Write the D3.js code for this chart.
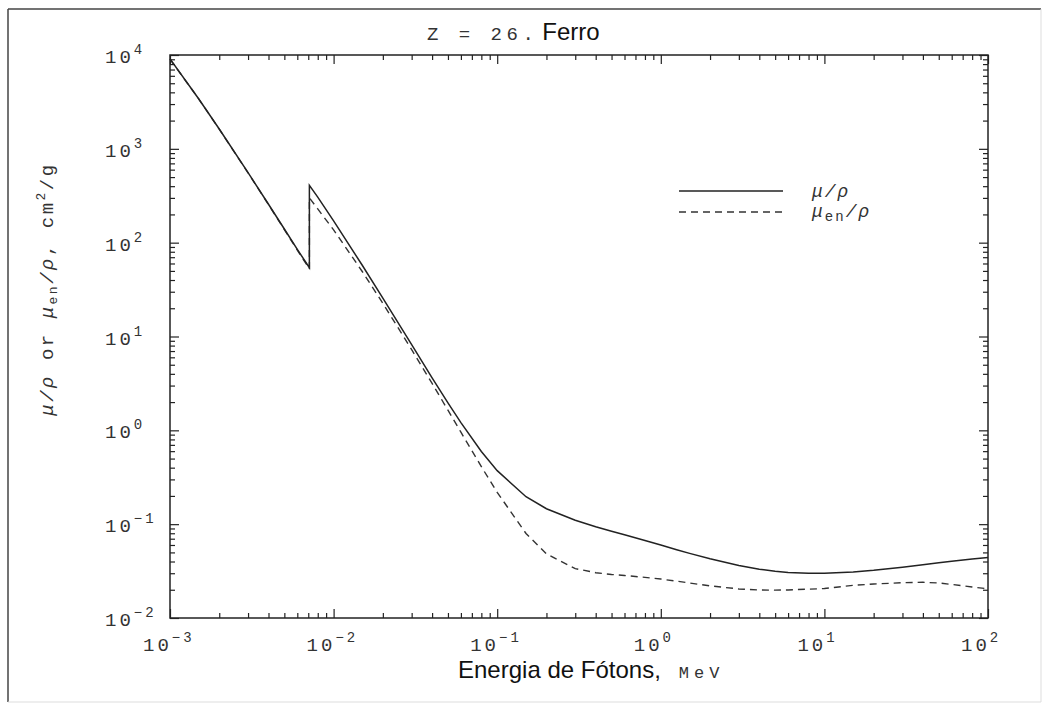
<!DOCTYPE html>
<html>
<head>
<meta charset="utf-8">
<script src="https://cdn.jsdelivr.net/npm/d3@7"></script>
<style>
  body { margin: 0; background: #fff; }
  svg { display: block; }
  .hershey { font-family: "Liberation Mono", monospace; fill: #333; }
  .arial { font-family: "Liberation Sans", Arial, sans-serif; fill: #111; }
</style>
</head>
<body>
<div id="chart"></div>
<script>
// photon energy, MeV (K edge of iron appears twice)
const energy = [0.001, 0.0015, 0.002, 0.003, 0.004, 0.005, 0.006, 0.007112, 0.007112, 0.008,
  0.01, 0.015, 0.02, 0.03, 0.04, 0.05, 0.06, 0.08, 0.1, 0.15, 0.2, 0.3, 0.4, 0.5, 0.6, 0.8,
  1, 1.25, 1.5, 2, 3, 4, 5, 6, 8, 10, 15, 20, 30, 40, 50, 60, 80, 100];

// mu/rho, cm2/g
const muRho = [9085, 3399, 1626, 557.6, 256.7, 139.8, 84.8, 54.1, 409, 305.6,
  170.6, 57.1, 25.7, 8.18, 3.63, 1.96, 1.21, 0.595, 0.372, 0.196, 0.146, 0.110, 0.094, 0.084, 0.077, 0.067,
  0.060, 0.0535, 0.0488, 0.0427, 0.0362, 0.0331, 0.0315, 0.0306, 0.0299, 0.0299, 0.0309, 0.0322, 0.0348, 0.0370, 0.0388, 0.0403, 0.0425, 0.0442];

// mu_en/rho, cm2/g
const muEnRho = [9052, 3388, 1620, 554.7, 254.5, 138.0, 83.3, 52.5, 300, 229,
  137, 49.0, 22.6, 7.25, 3.16, 1.64, 0.956, 0.410, 0.218, 0.0796, 0.0483, 0.0336, 0.0304, 0.0291, 0.0284, 0.0271,
  0.0260, 0.0247, 0.0236, 0.0220, 0.0204, 0.0199, 0.0198, 0.0199, 0.0203, 0.0206, 0.0223, 0.0230, 0.0238, 0.0240, 0.0236, 0.0228, 0.0214, 0.0205];

const xDecades = [-3, -2, -1, 0, 1, 2];
const yDecades = [-2, -1, 0, 1, 2, 3, 4];

const W = 1043, H = 704;
const pLeft = 170, pRight = 988, pTop = 55, pBottom = 618;

const svg = d3.select("#chart").append("svg")
  .attr("width", W)
  .attr("height", H);

// outer frame
svg.append("line").attr("x1", 8).attr("x2", 8).attr("y1", 9).attr("y2", 702)
  .attr("stroke", "#444").attr("stroke-width", 1.5);
svg.append("line").attr("x1", 8).attr("x2", 1041).attr("y1", 9).attr("y2", 9)
  .attr("stroke", "#444").attr("stroke-width", 1.5);
svg.append("line").attr("x1", 8).attr("x2", 1041).attr("y1", 702).attr("y2", 702)
  .attr("stroke", "#ddd").attr("stroke-width", 1);
svg.append("line").attr("x1", 1041).attr("x2", 1041).attr("y1", 9).attr("y2", 702)
  .attr("stroke", "#ddd").attr("stroke-width", 1);

const x = d3.scaleLog().domain([1e-3, 1e2]).range([pLeft, pRight]);
const y = d3.scaleLog().domain([1e-2, 1e4]).range([pBottom, pTop]);

const xMajor = xDecades.map(d => Math.pow(10, d));
const yMajor = yDecades.map(d => Math.pow(10, d));
const minorOf = decs => {
  const out = [];
  decs.slice(0, -1).forEach(d => {
    for (let k = 2; k <= 9; k++) out.push(k * Math.pow(10, d));
  });
  return out;
};
const xMinor = minorOf(xDecades);
const yMinor = minorOf(yDecades);

function styleAxis(g) {
  g.select(".domain").remove();
  g.selectAll("line").attr("stroke", "#222").attr("stroke-width", 1.2);
}

const majLen = 9, minLen = 5;

// bottom / top
svg.append("g").attr("transform", `translate(0,${pBottom})`)
  .call(d3.axisBottom(x).tickValues(xMajor).tickSize(-majLen).tickFormat("")).call(styleAxis);
svg.append("g").attr("transform", `translate(0,${pBottom})`)
  .call(d3.axisBottom(x).tickValues(xMinor).tickSize(-minLen).tickFormat("")).call(styleAxis);
svg.append("g").attr("transform", `translate(0,${pTop})`)
  .call(d3.axisTop(x).tickValues(xMajor).tickSize(-majLen).tickFormat("")).call(styleAxis);
svg.append("g").attr("transform", `translate(0,${pTop})`)
  .call(d3.axisTop(x).tickValues(xMinor).tickSize(-minLen).tickFormat("")).call(styleAxis);
// left / right
svg.append("g").attr("transform", `translate(${pLeft},0)`)
  .call(d3.axisLeft(y).tickValues(yMajor).tickSize(-majLen).tickFormat("")).call(styleAxis);
svg.append("g").attr("transform", `translate(${pLeft},0)`)
  .call(d3.axisLeft(y).tickValues(yMinor).tickSize(-minLen).tickFormat("")).call(styleAxis);
svg.append("g").attr("transform", `translate(${pRight},0)`)
  .call(d3.axisRight(y).tickValues(yMajor).tickSize(-majLen).tickFormat("")).call(styleAxis);
svg.append("g").attr("transform", `translate(${pRight},0)`)
  .call(d3.axisRight(y).tickValues(yMinor).tickSize(-minLen).tickFormat("")).call(styleAxis);

// plot frame
svg.append("rect")
  .attr("x", pLeft).attr("y", pTop)
  .attr("width", pRight - pLeft).attr("height", pBottom - pTop)
  .attr("fill", "none").attr("stroke", "#222").attr("stroke-width", 1.5);

// tick labels 10^n
function powLabel(sel) {
  sel.append("tspan").text("10");
  sel.append("tspan")
    .attr("dy", -9)
    .style("font-size", "14px")
    .text(d => (d < 0 ? "\u2212" + (-d) : d));
}

svg.selectAll(".xlab").data(xDecades).enter().append("text")
  .attr("class", "hershey xlab")
  .attr("x", d => x(Math.pow(10, d)) - 27)
  .attr("y", pBottom + 33)
  .style("font-size", "19px")
  .style("letter-spacing", "3px")
  .call(powLabel);

svg.selectAll(".ylab").data(yDecades).enter().append("text")
  .attr("class", "hershey ylab")
  .attr("x", pLeft - 65)
  .attr("y", d => y(Math.pow(10, d)) + 8)
  .style("font-size", "19px")
  .style("letter-spacing", "3px")
  .call(powLabel);

// curves
const line = d3.line()
  .x(d => x(d[0]))
  .y(d => y(d[1]));

svg.append("path")
  .datum(energy.map((e, i) => [e, muEnRho[i]]))
  .attr("d", line)
  .attr("fill", "none")
  .attr("stroke", "#333")
  .attr("stroke-width", 1.4)
  .attr("stroke-dasharray", "7,5");

svg.append("path")
  .datum(energy.map((e, i) => [e, muRho[i]]))
  .attr("d", line)
  .attr("fill", "none")
  .attr("stroke", "#222")
  .attr("stroke-width", 1.5);

// legend
svg.append("line").attr("x1", 679).attr("x2", 783).attr("y1", 191).attr("y2", 191)
  .attr("stroke", "#222").attr("stroke-width", 1.5);
svg.append("line").attr("x1", 679).attr("x2", 783).attr("y1", 212).attr("y2", 212)
  .attr("stroke", "#333").attr("stroke-width", 1.4).attr("stroke-dasharray", "7,5");

svg.append("text").attr("class", "hershey")
  .attr("x", 812).attr("y", 197)
  .style("font-size", "18px").style("font-style", "italic").style("letter-spacing", "2px")
  .text("\u03bc/\u03c1");
const l2 = svg.append("text").attr("class", "hershey")
  .attr("x", 812).attr("y", 217)
  .style("font-size", "18px").style("font-style", "italic").style("letter-spacing", "2px");
l2.append("tspan").text("\u03bc");
l2.append("tspan").attr("dy", 4).style("font-size", "14px").style("font-style", "normal").text("en");
l2.append("tspan").attr("dy", -4).text("/\u03c1");

// title
const title = svg.append("text").attr("x", 427).attr("y", 40);
title.append("tspan").attr("class", "hershey")
  .style("font-size", "19px").style("letter-spacing", "4.5px").text("Z = 26.");
title.append("tspan").attr("class", "arial")
  .attr("dx", 4)
  .style("font-size", "24px").text("Ferro");

// x label
const xl = svg.append("text").attr("x", 458).attr("y", 678);
xl.append("tspan").attr("class", "arial").style("font-size", "24px").text("Energia de F\u00f3tons,");
xl.append("tspan").attr("class", "hershey").attr("dx", 18)
  .style("font-size", "17px").style("letter-spacing", "5px").text("MeV");

// y label
const yl = svg.append("text")
  .attr("class", "hershey")
  .attr("transform", "translate(53,289) rotate(-90)")
  .attr("text-anchor", "middle")
  .style("font-size", "19px")
  .style("letter-spacing", "2.5px");
yl.append("tspan").style("font-style", "italic").text("\u03bc/\u03c1");
yl.append("tspan").text(" or ");
yl.append("tspan").style("font-style", "italic").text("\u03bc");
yl.append("tspan").attr("dy", 4).style("font-size", "13px").text("en");
yl.append("tspan").attr("dy", -4).style("font-style", "italic").text("/\u03c1");
yl.append("tspan").text(", cm");
yl.append("tspan").attr("dy", -8).style("font-size", "13px").text("2");
yl.append("tspan").attr("dy", 8).text("/g");
</script>
</body>
</html>
